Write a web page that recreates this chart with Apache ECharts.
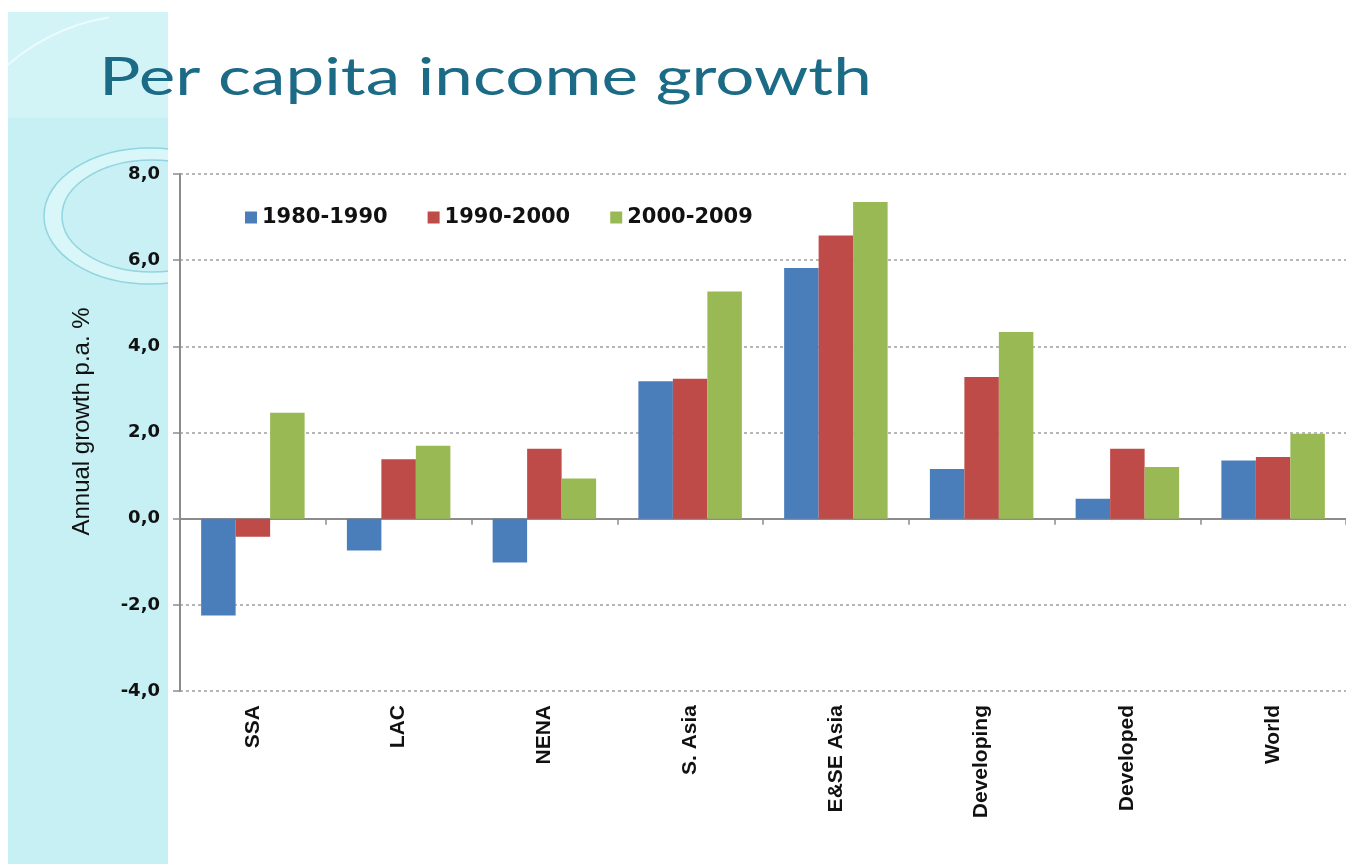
<!DOCTYPE html>
<html>
<head>
<meta charset="utf-8">
<script src="https://cdn.jsdelivr.net/npm/echarts@6/dist/echarts.min.js"></script>
<style>html,body{margin:0;padding:0;background:#fff;}#c{width:1346px;height:864px;}</style>
</head>
<body>
<div id="c"></div>
<script>
const categories = ['SSA', 'LAC', 'NENA', 'S. Asia', 'E&SE Asia', 'Developing', 'Developed', 'World'];
const seriesNames = ['1980-1990', '1990-2000', '2000-2009'];
const s1980 = [-2.25, -0.74, -1.02, 3.19, 5.82, 1.15, 0.46, 1.35];
const s1990 = [-0.42, 1.38, 1.62, 3.25, 6.57, 3.29, 1.62, 1.43];
const s2000 = [2.46, 1.69, 0.93, 5.27, 7.35, 4.33, 1.20, 1.97];
const yTicks = { min: -4, max: 8, interval: 2 };
const titleText = 'Per capita income growth';
const yName = 'Annual growth p.a. %';

const colors = ['#4A7EBB', '#BE4B48', '#98B954'];
const axisGray = '#8c8c8c';

const chart = echarts.init(document.getElementById('c'), null, { renderer: 'canvas' });
chart.setOption({
  backgroundColor: '#ffffff',
  animation: false,
  graphic: [
    { type: 'rect', z: -10, shape: { x: 8, y: 12, width: 160, height: 852 }, style: { fill: '#c6f0f4' } },
    { type: 'rect', z: -9, shape: { x: 8, y: 12, width: 160, height: 106 }, style: { fill: '#d3f4f7' } },
    { type: 'arc', z: -8, shape: { cx: 140, cy: 215, r: 200, startAngle: Math.PI * 1.02, endAngle: Math.PI * 1.45 }, style: { stroke: 'rgba(255,255,255,0.6)', lineWidth: 2, fill: null } },
    { type: 'ellipse', z: -8, shape: { cx: 150, cy: 216, rx: 106, ry: 68 }, style: { stroke: 'rgba(120,200,215,0.7)', lineWidth: 1.5, fill: 'rgba(225,248,250,0.7)' } },
    { type: 'ellipse', z: -8, shape: { cx: 152, cy: 216, rx: 90, ry: 56 }, style: { stroke: 'rgba(120,200,215,0.7)', lineWidth: 1.5, fill: '#c9f1f5' } },
    { type: 'rect', z: -7, shape: { x: 168, y: 0, width: 1178, height: 864 }, style: { fill: '#ffffff' } },
    { type: 'text', z: 10, x: 99, y: 52, scaleX: 1.33, style: { text: titleText, font: '52px Lato', fill: '#1b6a86', verticalAlign: 'top' } }
  ],
  legend: {
    left: 240, top: 202,
    itemWidth: 12, itemHeight: 12, itemGap: 40,
    icon: 'rect',
    textStyle: { fontFamily: 'DejaVu Sans', fontWeight: 'bold', fontSize: 21, color: '#111' },
    data: seriesNames
  },
  grid: { left: 180, top: 174, width: 1174, height: 517, containLabel: false },
  xAxis: [
    {
      type: 'category', data: categories, position: 'bottom',
      axisLine: { onZero: true, lineStyle: { color: axisGray, width: 2 } },
      axisTick: { show: true, length: 6, lineStyle: { color: axisGray, width: 1.5 } },
      axisLabel: { show: false },
      splitLine: { show: false }
    },
    {
      type: 'category', data: categories, position: 'bottom',
      axisLine: { show: false, onZero: false },
      axisTick: { show: false },
      axisLabel: { show: true, rotate: 90, margin: 14, fontFamily: 'Liberation Sans', fontWeight: 'bold', fontSize: 21, color: '#111' },
      splitLine: { show: false }
    }
  ],
  yAxis: {
    type: 'value', min: yTicks.min, max: yTicks.max, interval: yTicks.interval,
    name: yName, nameLocation: 'middle', nameGap: 86,
    nameTextStyle: { fontFamily: 'Liberation Sans', fontSize: 24, color: '#111', padding: [0, 0, 0, 22] },
    axisLine: { show: true, onZero: false, lineStyle: { color: axisGray, width: 2 } },
    axisTick: { show: true, length: 7, lineStyle: { color: axisGray, width: 1.5 } },
    axisLabel: { margin: 20, fontFamily: 'DejaVu Sans', fontWeight: 'bold', fontSize: 18, color: '#111',
      formatter: v => v.toFixed(1).replace('.', ',') },
    splitLine: { show: true, lineStyle: { color: '#a0a0a0', width: 1.5, type: [3, 3] } }
  },
  series: [s1980, s1990, s2000].map((d, i) => ({
    name: seriesNames[i], type: 'bar', data: d, xAxisIndex: 0,
    barGap: '0%', barCategoryGap: '29%',
    itemStyle: { color: colors[i] }
  }))
});
</script>
</body>
</html>
